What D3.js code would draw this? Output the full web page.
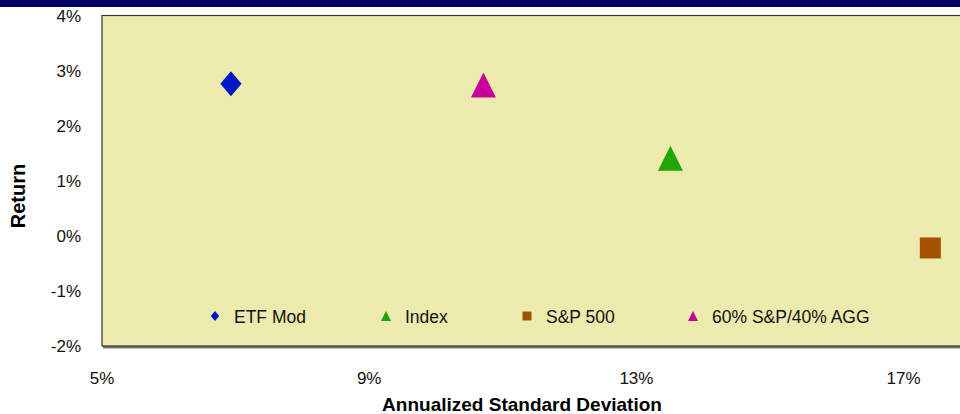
<!DOCTYPE html>
<html>
<head>
<meta charset="utf-8">
<script src="https://cdn.jsdelivr.net/npm/d3@7"></script>
<style>
  body { margin: 0; background: #fff; }
  svg { display: block; font-family: Arial, "Liberation Sans", sans-serif; }
</style>
</head>
<body>
<div id="chart"></div>
<script>
var series = ["ETF Mod", "Index", "S&P 500", "60% S&P/40% AGG"];
var stdDev = [6.93, 13.51, 17.40, 10.71];
var returns = [2.76, 1.41, -0.22, 2.74];
var shapes = ["diamond", "triangle", "square", "triangle"];
var colors = ["#0019c8", "#22a605", "#a35000", "#c8009b"];
var xTicks = [5, 9, 13, 17];
var yTicks = [-2, -1, 0, 1, 2, 3, 4];

var W = 960, H = 414;
var plotLeft = 102, plotTop = 15.5, plotBottom = 346;

var svg = d3.select("#chart").append("svg")
    .attr("width", W).attr("height", H);

// navy band on top
svg.append("rect").attr("x", 0).attr("y", 0).attr("width", W).attr("height", 7)
    .attr("fill", "#000066");

var x = d3.scaleLinear().domain([5, 19]).range([plotLeft, plotLeft + 14 * 66.8]);
var y = d3.scaleLinear().domain([-2, 4]).range([plotBottom, plotTop]);

// plot area with a faint shadow
svg.append("rect")
    .attr("x", plotLeft + 1).attr("y", plotTop + 1)
    .attr("width", W).attr("height", plotBottom - plotTop + 1.5)
    .attr("fill", "#7a7a6a");
svg.append("rect")
    .attr("x", plotLeft).attr("y", plotTop)
    .attr("width", W).attr("height", plotBottom - plotTop)
    .attr("fill", "#ecebad")
    .attr("stroke", "#333")
    .attr("stroke-width", 1.2);

// marker shapes, centred on 0,0
function shapePath(kind, s) {
    var h = s / 2;
    if (kind == "diamond") return "M0," + (-h) + "L" + (h * 0.85) + ",0L0," + h + "L" + (-h * 0.85) + ",0Z";
    if (kind == "square") return "M" + (-h) + "," + (-h) + "H" + h + "V" + h + "H" + (-h) + "Z";
    return "M0," + (-h) + "L" + h + "," + h + "L" + (-h) + "," + h + "Z";
}
var bigSize = { diamond: 25, triangle: 25, square: 21 };
var smallSize = { diamond: 10, triangle: 10, square: 9 };

// y ticks
svg.append("g").selectAll("text")
    .data(yTicks)
    .join("text")
    .attr("x", 81)
    .attr("y", d => y(d) + 6)
    .attr("text-anchor", "end")
    .attr("font-size", 17)
    .attr("fill", "#111")
    .text(d => d + "%");

// x ticks
svg.append("g").selectAll("text")
    .data(xTicks)
    .join("text")
    .attr("x", d => x(d))
    .attr("y", 384)
    .attr("text-anchor", "middle")
    .attr("font-size", 17)
    .attr("fill", "#111")
    .text(d => d + "%");

// axis titles
svg.append("text")
    .attr("x", 522).attr("y", 411)
    .attr("text-anchor", "middle")
    .attr("font-size", 19).attr("font-weight", "bold")
    .text("Annualized Standard Deviation");
svg.append("text")
    .attr("transform", "translate(24.5,196) rotate(-90)")
    .attr("text-anchor", "middle")
    .attr("font-size", 20).attr("font-weight", "bold")
    .text("Return");

// points
svg.append("g").selectAll("path")
    .data(series)
    .join("path")
    .attr("transform", (d, i) => "translate(" + x(stdDev[i]) + "," + y(returns[i]) + ")")
    .attr("d", (d, i) => shapePath(shapes[i], bigSize[shapes[i]]))
    .attr("fill", (d, i) => colors[i]);

// legend
var legX = [215, 386, 527, 693];
var leg = svg.append("g").selectAll("g")
    .data(series)
    .join("g")
    .attr("transform", (d, i) => "translate(" + legX[i] + ",316)");
leg.append("path")
    .attr("d", (d, i) => shapePath(shapes[i], smallSize[shapes[i]]))
    .attr("fill", (d, i) => colors[i]);
leg.append("text")
    .attr("x", 19).attr("y", 6.5)
    .attr("font-size", 17.5)
    .attr("fill", "#111")
    .text(d => d);
</script>
</body>
</html>
